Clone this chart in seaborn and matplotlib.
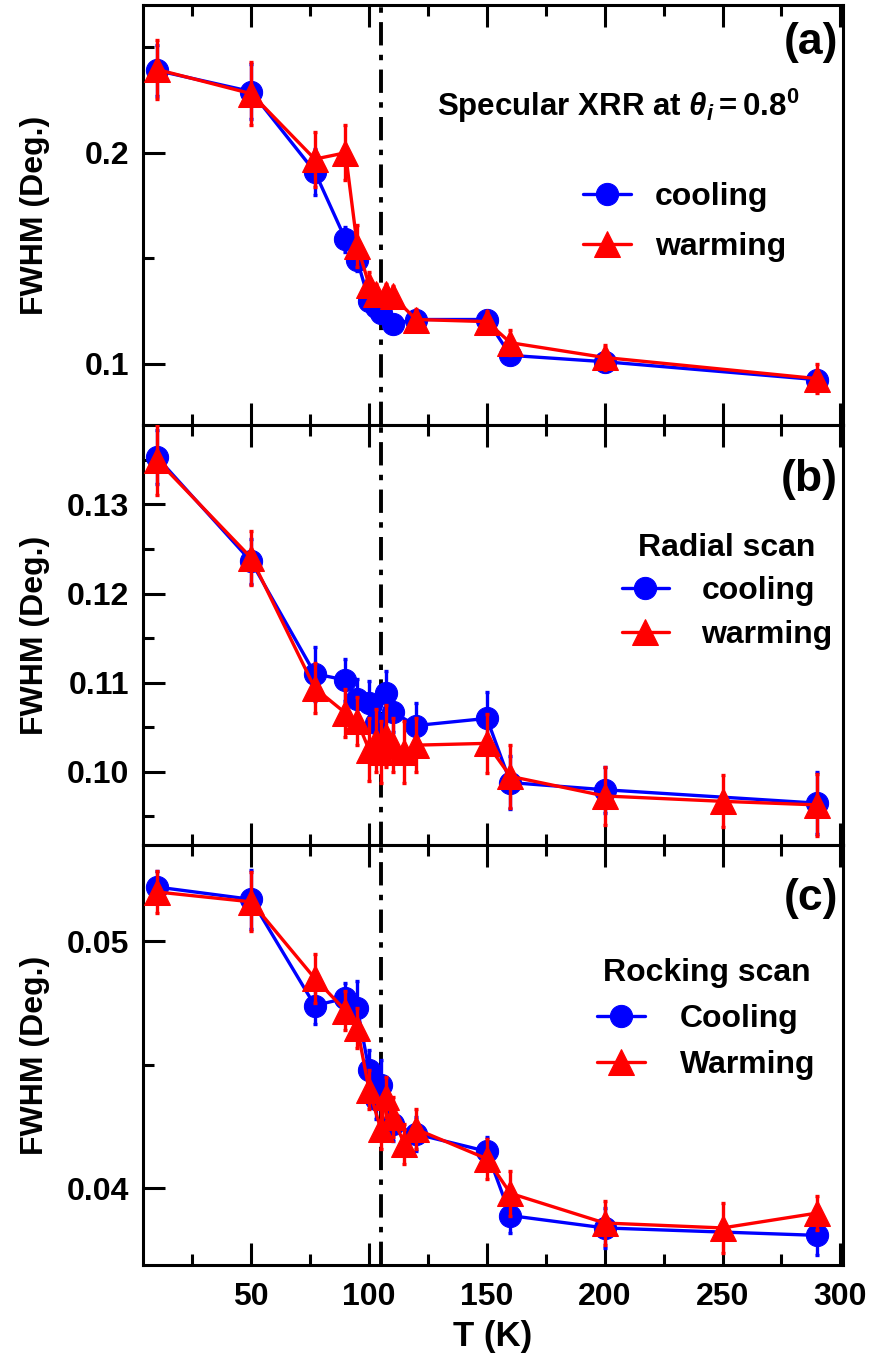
import matplotlib
matplotlib.use("Agg")
import matplotlib.pyplot as plt
import seaborn as sns
import pandas as pd

# ---------------- data ----------------
# Panel (a): Specular XRR
a_cool_T = [10, 50, 77, 90, 95, 100, 103, 105, 110, 120, 150, 160, 200, 290]
a_cool_y = [0.239, 0.229, 0.191, 0.159, 0.149, 0.130, 0.127, 0.124, 0.119, 0.121, 0.121, 0.104, 0.101, 0.0925]
a_cool_e = [0.012, 0.013, 0.011, 0.006, 0.005, 0.005, 0.004, 0.004, 0.004, 0.004, 0.004, 0.004, 0.004, 0.004]
a_warm_T = [10, 50, 77, 90, 95, 100, 103, 107, 110, 120, 150, 160, 200, 290]
a_warm_y = [0.2395, 0.228, 0.197, 0.200, 0.156, 0.1375, 0.133, 0.133, 0.132, 0.121, 0.120, 0.110, 0.103, 0.093]
a_warm_e = [0.014, 0.015, 0.013, 0.013, 0.010, 0.006, 0.005, 0.005, 0.005, 0.005, 0.005, 0.006, 0.006, 0.007]

# Panel (b): Radial scan
b_cool_T = [10, 50, 77, 90, 95, 100, 103, 107, 110, 120, 150, 160, 200, 290]
b_cool_y = [0.1353, 0.1236, 0.1110, 0.1103, 0.1082, 0.1077, 0.1055, 0.1088, 0.1067, 0.1052, 0.1060, 0.0988, 0.0980, 0.0965]
b_cool_e = [0.0030, 0.0025, 0.0030, 0.0024, 0.0022, 0.0025, 0.0025, 0.0025, 0.0022, 0.0025, 0.0030, 0.0030, 0.0026, 0.0035]
b_warm_T = [10, 50, 77, 90, 95, 100, 103, 105, 107, 110, 115, 120, 150, 160, 200, 250, 290]
b_warm_y = [0.1350, 0.1240, 0.1094, 0.1066, 0.1057, 0.1025, 0.1035, 0.1022, 0.1040, 0.1030, 0.1022, 0.1030, 0.1032, 0.0995, 0.0973, 0.0967, 0.0963]
b_warm_e = [0.0039, 0.0030, 0.0028, 0.0027, 0.0027, 0.0035, 0.0035, 0.0035, 0.0035, 0.0030, 0.0035, 0.0030, 0.0033, 0.0035, 0.0032, 0.0029, 0.0035]

# Panel (c): Rocking scan
c_cool_T = [10, 50, 77, 90, 95, 100, 103, 105, 110, 120, 150, 160, 200, 290]
c_cool_y = [0.0522, 0.0517, 0.0474, 0.0477, 0.0473, 0.0448, 0.0436, 0.0442, 0.0426, 0.0422, 0.0415, 0.0389, 0.0384, 0.0381]
c_cool_e = [0.00065, 0.0012, 0.00075, 0.0006, 0.0011, 0.0008, 0.0008, 0.0010, 0.0007, 0.0007, 0.0006, 0.0007, 0.0008, 0.0008]
c_warm_T = [10, 50, 77, 90, 95, 100, 105, 107, 110, 115, 120, 150, 160, 200, 250, 290]
c_warm_y = [0.0520, 0.0516, 0.0485, 0.0472, 0.0465, 0.0440, 0.0424, 0.0437, 0.0429, 0.0418, 0.0424, 0.0412, 0.0398, 0.0386, 0.0384, 0.0390]
c_warm_e = [0.00085, 0.0012, 0.0010, 0.0008, 0.0008, 0.0008, 0.0008, 0.0008, 0.0008, 0.0008, 0.0008, 0.0008, 0.0009, 0.0009, 0.0010, 0.0007]

T_transition = 105

panel_letters = ["(a)", "(b)", "(c)"]
legend_titles = [None, "Radial scan", "Rocking scan"]
legend_labels = [("cooling", "warming"), ("cooling", "warming"), ("Cooling", "Warming")]
x_ticks = [50, 100, 150, 200, 250, 300]

# ---------------- style ----------------
sns.set_style("ticks")
plt.rcParams["font.family"] = ["Liberation Sans", "DejaVu Sans"]
plt.rcParams["font.weight"] = "bold"
plt.rcParams["text.color"] = "black"
plt.rcParams["axes.labelcolor"] = "black"
plt.rcParams["xtick.color"] = "black"
plt.rcParams["ytick.color"] = "black"
plt.rcParams["axes.edgecolor"] = "black"
plt.rcParams["mathtext.fontset"] = "custom"
plt.rcParams["mathtext.rm"] = "Liberation Sans:bold"
plt.rcParams["mathtext.it"] = "Liberation Sans:italic:bold"
plt.rcParams["mathtext.bf"] = "Liberation Sans:bold"

BLUE = "#0000FF"
RED = "#FF0000"

fig = plt.figure(figsize=(8.76, 13.63), dpi=100)
axes = fig.subplots(3, 1, sharex=True, gridspec_kw=dict(hspace=0))
fig.subplots_adjust(left=0.163, right=0.962, top=0.9963, bottom=0.0719)

panels = [
    (a_cool_T, a_cool_y, a_cool_e, a_warm_T, a_warm_y, a_warm_e),
    (b_cool_T, b_cool_y, b_cool_e, b_warm_T, b_warm_y, b_warm_e),
    (c_cool_T, c_cool_y, c_cool_e, c_warm_T, c_warm_y, c_warm_e),
]
ylims = [(0.071, 0.27), (0.0918, 0.1389), (0.0369, 0.0539)]
ymajor = [[0.1, 0.2], [0.10, 0.11, 0.12, 0.13], [0.04, 0.05]]
yminor = [[0.15, 0.25], [0.095, 0.105, 0.115, 0.125, 0.135], [0.045]]
ylabels_fmt = [["0.1", "0.2"], ["0.10", "0.11", "0.12", "0.13"], ["0.04", "0.05"]]
legend_anchor = [(0.629, 0.578), (0.684, 0.743), (0.649, 0.731)]
text_pad = [0.75, 1.0, 1.1]
label_sp = [0.62, 0.42, 0.5]
letter_y = [0.911, 0.870, 0.872]

for i, ax in enumerate(axes):
    cT, cy, ce, wT, wy, we = panels[i]
    ax.axvline(T_transition, color="black", lw=2.8, ls=(0, (6.0, 2.4, 1.4, 2.4)), zorder=1)

    dfc = pd.DataFrame({"T": cT, "y": cy})
    dfw = pd.DataFrame({"T": wT, "y": wy})

    ax.errorbar(cT, cy, yerr=ce, fmt="none", ecolor=BLUE, elinewidth=2.4,
                capsize=1.5, capthick=2.4, zorder=2)
    sns.lineplot(data=dfc, x="T", y="y", ax=ax, color=BLUE, lw=2.4, marker="o",
                 markersize=16, markeredgecolor=BLUE, label=legend_labels[i][0],
                 zorder=3, sort=True)
    ax.errorbar(wT, wy, yerr=we, fmt="none", ecolor=RED, elinewidth=2.4,
                capsize=1.5, capthick=2.4, zorder=4)
    sns.lineplot(data=dfw, x="T", y="y", ax=ax, color=RED, lw=2.4, marker="^",
                 markersize=19, markeredgecolor=RED, label=legend_labels[i][1],
                 zorder=5, sort=True)

    ax.set_xlim(4, 301)
    ax.set_ylim(*ylims[i])
    ax.set_yticks(ymajor[i])
    ax.set_yticklabels(ylabels_fmt[i])
    ax.set_yticks(yminor[i], minor=True)
    ax.set_xticks(x_ticks)
    ax.set_xticks([25, 75, 125, 175, 225, 275], minor=True)
    ax.tick_params(which="both", direction="in", top=True, right=False,
                   width=2.2, labelsize=23, color="black", labelcolor="black")
    ax.tick_params(which="major", length=16)
    ax.tick_params(which="minor", length=8)
    ax.tick_params(axis="y", pad=10)
    for sp in ax.spines.values():
        sp.set_linewidth(2.2)
        sp.set_color("black")
    for lab in ax.get_yticklabels() + ax.get_xticklabels():
        lab.set_fontweight("bold")

    ax.set_ylabel("FWHM (Deg.)", fontsize=23, fontweight="bold", color="black")
    ax.set_xlabel("")
    ax.yaxis.set_label_coords(-0.132, 0.5)

    ax.text(0.993, letter_y[i], panel_letters[i], transform=ax.transAxes,
            ha="right", va="center", fontsize=32, fontweight="bold", color="black")

    leg = ax.legend(loc="upper left", bbox_to_anchor=legend_anchor[i],
                    frameon=False, fontsize=23, borderpad=0, borderaxespad=0,
                    handlelength=1.5, handletextpad=text_pad[i], labelspacing=label_sp[i],
                    title=legend_titles[i],
                    title_fontproperties={"size": 23, "weight": "bold"})
    for t in leg.get_texts():
        t.set_fontweight("bold")
        t.set_color("black")
    if leg.get_title() is not None:
        leg.get_title().set_color("black")

axes[0].text(0.68, 0.76, r"Specular XRR at $\theta_i = 0.8^0$", transform=axes[0].transAxes,
             ha="center", va="center", fontsize=22.5, fontweight="bold", color="black")

axes[2].set_xlabel("T (K)", fontsize=25, fontweight="bold", labelpad=6, color="black")
axes[2].set_xticklabels([str(t) for t in x_ticks])
for lab in axes[2].get_xticklabels():
    lab.set_fontweight("bold")
axes[2].tick_params(axis="x", pad=12)

fig.savefig("out.png", dpi=100)
